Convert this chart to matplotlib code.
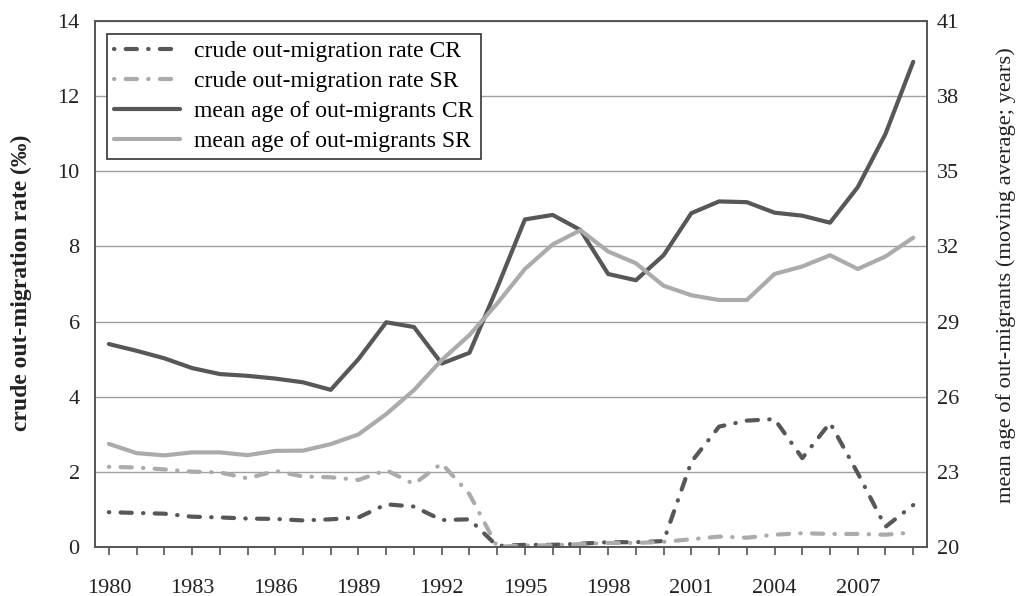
import matplotlib
matplotlib.use("Agg")
import matplotlib.pyplot as plt
import numpy as np

plt.rcParams['font.family'] = ['Liberation Serif', 'DejaVu Serif']

years = list(range(1980, 2010))

# crude out-migration rate (per mille), left axis
rate_cr = [0.92, 0.90, 0.88, 0.80, 0.78, 0.75, 0.74, 0.70, 0.73, 0.78,
           1.13, 1.07, 0.71, 0.73, 0.02, 0.05, 0.05, 0.08, 0.12, 0.12,
           0.15, 2.26, 3.20, 3.36, 3.40, 2.36, 3.30, 1.96, 0.53, 1.11]
rate_sr = [2.13, 2.11, 2.06, 2.00, 1.98, 1.82, 2.02, 1.87, 1.85, 1.78,
           2.04, 1.67, 2.22, 1.40, 0.00, 0.03, 0.04, 0.07, 0.10, 0.10,
           0.13, 0.20, 0.27, 0.24, 0.32, 0.36, 0.34, 0.34, 0.32, 0.38]

# mean age of out-migrants (years), right axis
age_cr = [28.10, 27.83, 27.53, 27.14, 26.90, 26.83, 26.72, 26.57, 26.27, 27.50,
          28.97, 28.78, 27.32, 27.75, 30.35, 33.08, 33.26, 32.66, 30.90, 30.65,
          31.65, 33.33, 33.80, 33.77, 33.35, 33.23, 32.95, 34.37, 36.50, 39.38]
age_sr = [24.11, 23.74, 23.65, 23.77, 23.77, 23.66, 23.83, 23.84, 24.10, 24.49,
          25.30, 26.26, 27.46, 28.46, 29.72, 31.10, 32.08, 32.65, 31.80, 31.33,
          30.43, 30.05, 29.86, 29.86, 30.90, 31.20, 31.65, 31.10, 31.60, 32.35]

dark = '#575757'
light = '#ababab'
txt = '#222222'
dashdot = (0, (0.1, 2.7, 2.7, 2.7))

fig = plt.figure(figsize=(10.16, 5.96), dpi=100)
ax = fig.add_axes([0.0935, 0.0827, 0.819, 0.8816])
ax2 = ax.twinx()

l1, = ax.plot(years, rate_cr, color=dark, lw=3, linestyle=dashdot,
              dash_capstyle='round', label='crude out-migration rate CR')
l2, = ax.plot(years, rate_sr, color=light, lw=3, linestyle=dashdot,
              dash_capstyle='round', label='crude out-migration rate SR')
l3, = ax2.plot(years, age_cr, color=dark, lw=3, solid_capstyle='round',
               label='mean age of out-migrants CR')
l4, = ax2.plot(years, age_sr, color=light, lw=3, solid_capstyle='round',
               label='mean age of out-migrants SR')

ax.set_xlim(1979.5, 2009.5)
ax.set_ylim(0, 14)
ax.set_yticks(np.arange(0, 15, 2))
ax2.set_ylim(20, 41)
ax2.set_yticks(np.arange(20, 42, 3))

ax.set_xticks(years)
ax.set_xticklabels([str(y) if (y - 1980) % 3 == 0 else '' for y in years])

ax.yaxis.grid(True, color='#a0a0a0', lw=1)
ax.set_axisbelow(True)

for a in (ax, ax2):
    for s in a.spines.values():
        s.set_color('#555555')
        s.set_linewidth(1.2)

ax.tick_params(axis='x', direction='out', length=6, width=1.2, color='#555555',
               pad=17, labelsize=16, labelcolor=txt)
ax.tick_params(axis='y', length=0, pad=11, labelsize=16, labelcolor=txt)
ax2.tick_params(axis='y', length=0, pad=7, labelsize=16, labelcolor=txt)

ax.set_ylabel('crude out-migration rate (‰)', fontsize=17, fontweight='bold',
              color=txt)
ax.yaxis.set_label_coords(-0.0757, 0.503)
ax2.set_ylabel('mean age of out-migrants (moving average; years)', fontsize=16.2,
               color=txt)
ax2.yaxis.set_label_coords(1.083, 0.517)

leg = ax2.legend(handles=[l1, l2, l3, l4], loc='upper left',
                 bbox_to_anchor=(0.0144, 0.976), fontsize=17, frameon=True,
                 fancybox=False, edgecolor='#333333', handlelength=2.8,
                 handletextpad=0.6, borderpad=0.3, labelspacing=0.35,
                 borderaxespad=0, framealpha=1)
leg.get_frame().set_linewidth(1.2)

fig.savefig('out.png', dpi=100)
